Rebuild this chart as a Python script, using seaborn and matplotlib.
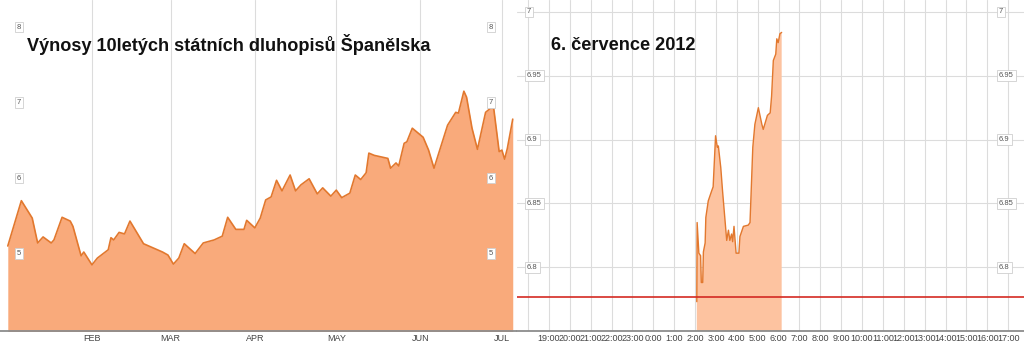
import matplotlib
matplotlib.use("Agg")
import matplotlib.pyplot as plt
import pandas as pd
import seaborn as sns

# Daily yields, Jan-Jul 2012
days = [
    "2012-01-01", "2012-01-06", "2012-01-10", "2012-01-12", "2012-01-14", "2012-01-17",
    "2012-01-18", "2012-01-21", "2012-01-24", "2012-01-25", "2012-01-28", "2012-01-29",
    "2012-02-01", "2012-02-03", "2012-02-07", "2012-02-08", "2012-02-09", "2012-02-11",
    "2012-02-13", "2012-02-15", "2012-02-18", "2012-02-20", "2012-02-27", "2012-02-29",
    "2012-03-02", "2012-03-04", "2012-03-06", "2012-03-10", "2012-03-13", "2012-03-17",
    "2012-03-20", "2012-03-22", "2012-03-25", "2012-03-28", "2012-03-29", "2012-04-01",
    "2012-04-03", "2012-04-05", "2012-04-07", "2012-04-09", "2012-04-11", "2012-04-14",
    "2012-04-16", "2012-04-18", "2012-04-21", "2012-04-24", "2012-04-26", "2012-04-29",
    "2012-05-01", "2012-05-03", "2012-05-06", "2012-05-08", "2012-05-10", "2012-05-12",
    "2012-05-13", "2012-05-15", "2012-05-20", "2012-05-21", "2012-05-23", "2012-05-24",
    "2012-05-26", "2012-05-27", "2012-05-29", "2012-06-02", "2012-06-04", "2012-06-06",
    "2012-06-11", "2012-06-14", "2012-06-15", "2012-06-17", "2012-06-18", "2012-06-20",
    "2012-06-22", "2012-06-25", "2012-06-27", "2012-06-28", "2012-06-30", "2012-07-01",
    "2012-07-02", "2012-07-03", "2012-07-05",
]
daily_yield = [
    5.10, 5.70, 5.47, 5.14, 5.22, 5.14,
    5.18, 5.48, 5.43, 5.36, 4.97, 5.02,
    4.85, 4.94, 5.05, 5.21, 5.18, 5.28,
    5.26, 5.43, 5.25, 5.13, 5.02, 4.98,
    4.86, 4.94, 5.13, 5.00, 5.14, 5.18,
    5.23, 5.48, 5.32, 5.32, 5.44, 5.34,
    5.47, 5.71, 5.75, 5.97, 5.83, 6.04,
    5.83, 5.91, 5.99, 5.79, 5.87, 5.76,
    5.84, 5.74, 5.80, 6.04, 5.98, 6.07,
    6.33, 6.30, 6.26, 6.13, 6.20, 6.16,
    6.46, 6.48, 6.66, 6.54, 6.37, 6.13,
    6.70, 6.87, 6.86, 7.15, 7.07, 6.66,
    6.38, 6.87, 6.93, 6.92, 6.35, 6.37,
    6.25, 6.39, 6.78,
]
month_labels = ["FEB", "MAR", "APR", "MAY", "JUN", "JUL"]
daily_yticks = [5, 6, 7, 8]

# Intraday yields, 6 July 2012
times = [
    "02:05", "02:06", "02:11", "02:16", "02:18", "02:22", "02:24", "02:29", "02:31",
    "02:38", "02:48", "02:52", "02:59", "03:04", "03:07", "03:14", "03:19", "03:31",
    "03:36", "03:40", "03:45", "03:48", "03:52", "03:58", "04:06", "04:09", "04:19",
    "04:33", "04:38", "04:46", "04:52", "05:02", "05:12", "05:16", "05:28", "05:36",
    "05:40", "05:45", "05:52", "05:55", "05:59", "06:04", "06:09",
]
intraday_yield = [
    6.773, 6.835, 6.811, 6.809, 6.788, 6.788, 6.812, 6.819, 6.839,
    6.852, 6.860, 6.863, 6.903, 6.894, 6.895, 6.878, 6.860, 6.821,
    6.829, 6.821, 6.826, 6.820, 6.832, 6.811, 6.811, 6.824, 6.832,
    6.833, 6.835, 6.894, 6.912, 6.925, 6.912, 6.908, 6.919, 6.921,
    6.934, 6.962, 6.967, 6.979, 6.976, 6.983, 6.984,
]
previous_close = 6.777
hour_labels = ["", "19:00", "20:00", "21:00", "22:00", "23:00", "0:00", "1:00", "2:00",
               "3:00", "4:00", "5:00", "6:00", "7:00", "8:00", "9:00", "10:00", "11:00",
               "12:00", "13:00", "14:00", "15:00", "16:00", "17:00"]
intraday_yticks = [6.80, 6.85, 6.90, 6.95, 7.00]
intraday_ytick_labels = ["6.8", "6.85", "6.9", "6.95", "7"]

sns.set_theme(style="white")
plt.rcParams["font.family"] = ["Liberation Sans", "DejaVu Sans"]

GRID = "#dcdcdc"
LINE = "#e2782e"
FILL_DAILY = "#f9aa7b"
FILL_INTRA = "#fdc3a0"
BASE = "#8c8c8c"
TICK_TXT = "#444444"

W, H = 1024, 346
fig = plt.figure(figsize=(W / 100, H / 100), dpi=100)
ax1 = fig.add_axes([0, 15 / H, 516 / W, 331 / H])
ax2 = fig.add_axes([517 / W, 15 / H, 507 / W, 331 / H])


def style_axes(ax):
    for side in ("left", "right", "top"):
        ax.spines[side].set_visible(False)
    ax.spines["bottom"].set_color(BASE)
    ax.spines["bottom"].set_linewidth(1.3)
    ax.grid(True, color=GRID, linewidth=0.8)
    ax.set_axisbelow(True)
    ax.set_yticks([])
    ax.tick_params(axis="x", length=0, pad=2, labelsize=6.5, labelcolor=TICK_TXT)
    ax.set_xlabel("")
    ax.set_ylabel("")


def box_labels(ax, values, labels, x_left, x_right):
    bbox = dict(boxstyle="square,pad=0.25", fc="white", ec="#cfcfcf", lw=0.6)
    for v, lab in zip(values, labels):
        for xp in (x_left, x_right):
            ax.text(xp, v, lab, transform=ax.get_yaxis_transform(), ha="left",
                    va="center", fontsize=5.5, color="#555555", bbox=bbox, zorder=5)


# Left panel: daily series
d_df = pd.DataFrame({"date": pd.to_datetime(days), "yield": daily_yield})
ax1.fill_between(d_df["date"], 3.0, d_df["yield"], color=FILL_DAILY, lw=0, zorder=2)
sns.lineplot(data=d_df, x="date", y="yield", ax=ax1, color=LINE, linewidth=1.2, zorder=3)
ax1.set_ylim(3.974, 8.358)
jan1 = pd.Timestamp("2012-01-01")
ax1.set_xlim(jan1 - pd.Timedelta(days=2.87), jan1 + pd.Timedelta(days=187.2))
style_axes(ax1)
month_pos = pd.date_range("2012-02-01", periods=len(month_labels), freq="MS")
ax1.set_xticks(month_pos)
ax1.set_xticklabels(month_labels)
box_labels(ax1, daily_yticks, [str(v) for v in daily_yticks], 17 / 516, 489 / 516)
ax1.text(27 / 516, 6.0 + (178 - 50.5) / 75.5, "Výnosy 10letých státních dluhopisů Španělska",
         transform=ax1.get_yaxis_transform(), ha="left", va="baseline",
         fontsize=13.1, fontweight="bold", color="#111111", zorder=6)

# Right panel: intraday series
t_df = pd.DataFrame({"time": pd.to_datetime(["2012-07-06 " + t for t in times]),
                     "yield": intraday_yield})
ax2.fill_between(t_df["time"], 6.70, t_df["yield"], color=FILL_INTRA, lw=0, zorder=2)
sns.lineplot(data=t_df, x="time", y="yield", ax=ax2, color=LINE, linewidth=1.0, zorder=3)
ax2.axhline(previous_close, color="#d42a22", linewidth=1.2, zorder=4)
ax2.set_ylim(6.75, 7.0094)
day0 = pd.Timestamp("2012-07-06")
ax2.set_xlim(day0 - pd.Timedelta(hours=6.53), day0 + pd.Timedelta(hours=17.76))
style_axes(ax2)
hour_pos = pd.date_range("2012-07-05 18:00", periods=len(hour_labels), freq="h")
ax2.set_xticks(hour_pos)
ax2.set_xticklabels(hour_labels)
ax2.set_yticks(intraday_yticks)
ax2.tick_params(axis="y", length=0, labelleft=False)
box_labels(ax2, intraday_yticks, intraday_ytick_labels, 10 / 507, 482 / 507)
ax2.text(34 / 507, 7.0 - (50.5 - 12) / 1280, "6. července 2012",
         transform=ax2.get_yaxis_transform(), ha="left", va="baseline",
         fontsize=13.1, fontweight="bold", color="#111111", zorder=6)

fig.savefig("out.png", dpi=100)
